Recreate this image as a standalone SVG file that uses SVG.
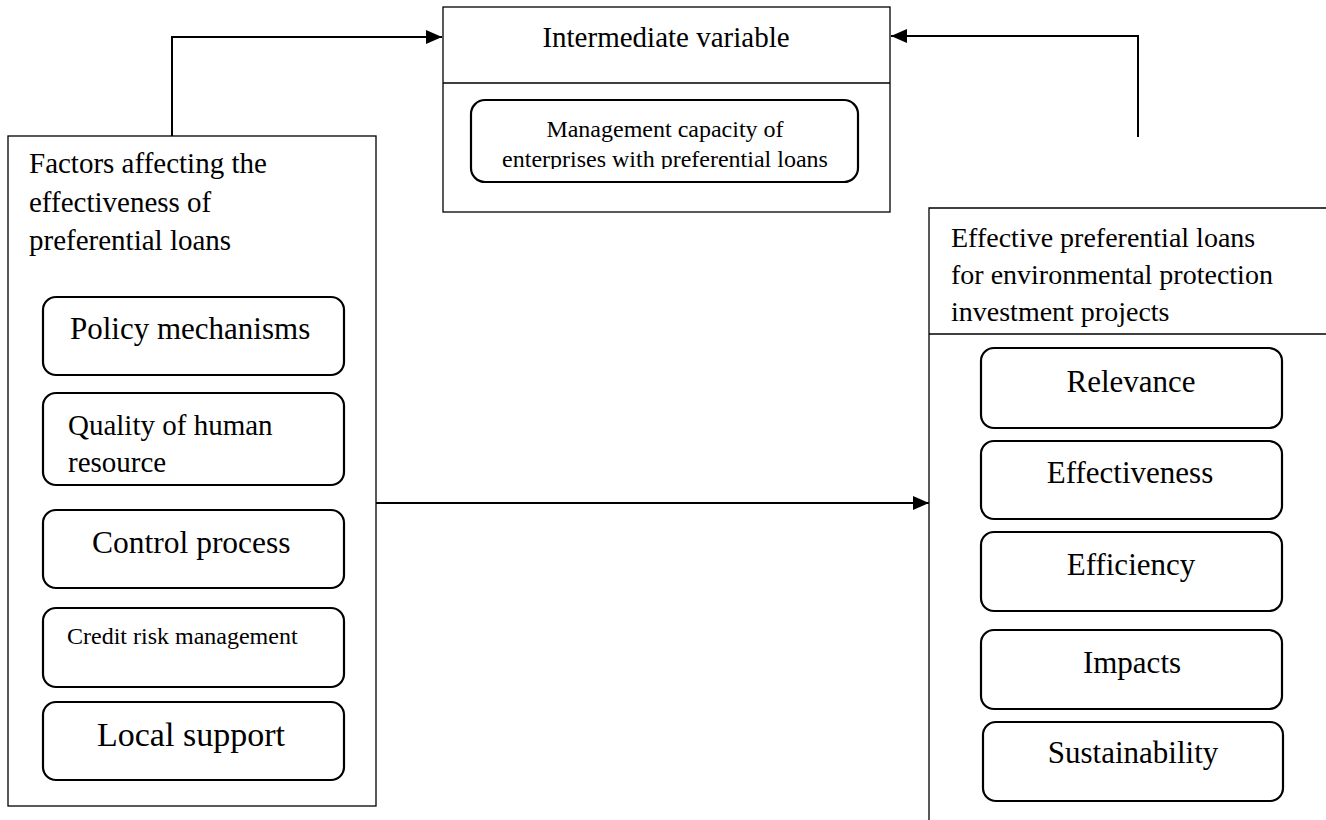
<svg xmlns="http://www.w3.org/2000/svg" width="1326" height="820" viewBox="0 0 1326 820">
<style>
text{font-family:"Liberation Serif","Times New Roman",serif;fill:#000}
.frame{fill:#fff;stroke:#000;stroke-width:1.3}
.item{fill:#fff;stroke:#000;stroke-width:2.2}
.conn{fill:none;stroke:#000;stroke-width:2}
.thin{fill:none;stroke:#000;stroke-width:1.3}
.c{text-anchor:middle}
</style>
<defs>
<marker id="ah" viewBox="0 0 16 14" refX="16" refY="7" markerWidth="16" markerHeight="14" markerUnits="userSpaceOnUse" orient="auto">
<path d="M0,0 L16,7 L0,14 Z" fill="#000"/>
</marker>
<clipPath id="clipMgmt"><rect x="471" y="100" width="387" height="69"/></clipPath>
</defs>
<rect width="1326" height="820" fill="#fff"/>

<g id="intermediate">
<rect class="frame" x="443" y="7" width="447" height="205"/>
<line class="thin" x1="443" y1="83" x2="890" y2="83"/>
<text class="c" x="666" y="47" font-size="29">Intermediate variable</text>
<rect class="item" x="471" y="100" width="387" height="82" rx="14"/>
<g clip-path="url(#clipMgmt)">
<text class="c" x="665" y="137" font-size="24">Management capacity of</text>
<text class="c" x="665" y="167" font-size="24">enterprises with preferential loans</text>
</g>
</g>

<g id="factors">
<rect class="frame" x="8" y="136" width="368" height="670"/>
<text x="29" y="173" font-size="29">Factors affecting the</text>
<text x="29" y="212" font-size="29">effectiveness of</text>
<text x="29" y="250" font-size="29">preferential loans</text>
</g>
<g id="policy">
<rect class="item" x="43" y="297" width="301" height="78" rx="13"/>
<text x="70" y="339" font-size="31">Policy mechanisms</text>
</g>
<g id="quality">
<rect class="item" x="43" y="393" width="301" height="92" rx="13"/>
<text x="68" y="435" font-size="29">Quality of human</text>
<text x="68" y="472" font-size="29">resource</text>
</g>
<g id="control">
<rect class="item" x="43" y="510" width="301" height="78" rx="13"/>
<text x="92" y="553" font-size="31.5">Control process</text>
</g>
<g id="credit">
<rect class="item" x="43" y="608" width="301" height="79" rx="13"/>
<text x="67" y="644" font-size="24">Credit risk management</text>
</g>
<g id="local">
<rect class="item" x="43" y="702" width="301" height="78" rx="13"/>
<text x="97" y="746" font-size="34">Local support</text>
</g>

<g id="effective">
<path class="thin" d="M1326,208 H929 V820"/>
<line class="thin" x1="929" y1="334" x2="1326" y2="334"/>
<text x="951" y="247" font-size="28">Effective preferential loans</text>
<text x="951" y="284" font-size="28">for environmental protection</text>
<text x="951" y="321" font-size="28">investment projects</text>
</g>
<g id="relevance">
<rect class="item" x="981" y="348" width="301" height="80" rx="13"/>
<text class="c" x="1131" y="392" font-size="31">Relevance</text>
</g>
<g id="effectiveness">
<rect class="item" x="981" y="441" width="301" height="78" rx="13"/>
<text class="c" x="1130" y="483" font-size="31">Effectiveness</text>
</g>
<g id="efficiency">
<rect class="item" x="981" y="532" width="301" height="79" rx="13"/>
<text class="c" x="1131" y="575" font-size="31">Efficiency</text>
</g>
<g id="impacts">
<rect class="item" x="981" y="630" width="301" height="79" rx="13"/>
<text class="c" x="1132" y="673" font-size="31">Impacts</text>
</g>
<g id="sustainability">
<rect class="item" x="983" y="722" width="300" height="79" rx="13"/>
<text class="c" x="1133" y="763" font-size="31">Sustainability</text>
</g>

<g id="connectors">
<path class="conn" d="M172,136 V37 H442" marker-end="url(#ah)"/>
<path class="conn" d="M1138,137 V36 H891" marker-end="url(#ah)"/>
<path class="conn" d="M376,503 H929" marker-end="url(#ah)"/>
</g>
</svg>
